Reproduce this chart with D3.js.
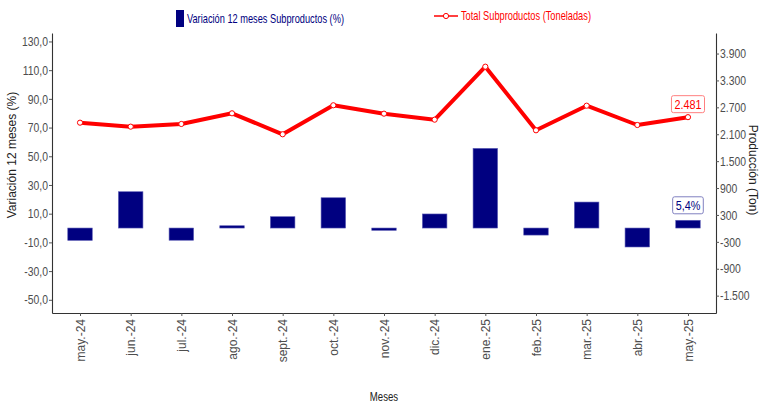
<!DOCTYPE html>
<html lang="es">
<head>
<meta charset="UTF-8">
<title>Subproductos</title>
<script src="https://cdn.jsdelivr.net/npm/d3@7"></script>
<style>
  body { margin: 0; background: #fff; }
  text { font-family: "Liberation Sans", Arial, sans-serif; }
</style>
</head>
<body>
<script>
"use strict";
// data
var months = ["may.-24", "jun.-24", "jul.-24", "ago.-24", "sept.-24", "oct.-24", "nov.-24",
              "dic.-24", "ene.-25", "feb.-25", "mar.-25", "abr.-25", "may.-25"];
var variacion = [-8.6, 25.3, -8.5, 1.6, 7.9, 21.1, -1.6, 9.8, 55.5, -4.9, 18.1, -13.2, 5.4];
var toneladas = [2358, 2269, 2329, 2567, 2099, 2746, 2559, 2425, 3607, 2188, 2737, 2306, 2481];
var leftTicks = [-50, -30, -10, 10, 30, 50, 70, 90, 110, 130];
var rightTicks = [-1500, -900, -300, 300, 900, 1500, 2100, 2700, 3300, 3900];

var W = 764, H = 404;
var pL = 52, pR = 716, pT = 33, pB = 313;
var K = 0.8; // squeeze for the narrow font of the original

var es = d3.formatLocale({ decimal: ",", thousands: ".", grouping: [3], currency: ["", "€"], minus: "-" });
var fmt1 = es.format(",.1f"), fmt0 = es.format(",.0f");

// squeeze text horizontally, keeping its x anchor
function narrow(sel, k) {
  sel.each(function () {
    var t = d3.select(this);
    var xx = +t.attr("x") || 0;
    t.attr("x", xx / k).attr("transform", (t.attr("transform") || "") + " scale(" + k + ",1)");
  });
}

var svg = d3.select("body").append("svg")
  .attr("width", W).attr("height", H);

var x = d3.scalePoint().domain(months).range([pL, pR]).padding(0.553);
var yL = d3.scaleLinear().domain([-59.2, 135.9]).range([pB, pT]);
var yR = d3.scaleLinear().domain([-1887, 4358]).range([pB, pT]);
var barW = 24.5;

// bars
svg.append("g").selectAll("rect")
  .data(variacion)
  .enter().append("rect")
  .attr("x", function (d, i) { return x(months[i]) - barW / 2; })
  .attr("y", function (d) { return yL(Math.max(0, d)); })
  .attr("width", barW)
  .attr("height", function (d) { return Math.abs(yL(d) - yL(0)); })
  .attr("fill", "#000080")
  .attr("stroke", "#5a5ab4")
  .attr("stroke-width", 0.6);

// line
var line = d3.line()
  .x(function (d, i) { return x(months[i]); })
  .y(function (d) { return yR(d); });
svg.append("path")
  .datum(toneladas)
  .attr("fill", "none")
  .attr("stroke", "#ff0000")
  .attr("stroke-width", 4)
  .attr("stroke-linejoin", "round")
  .attr("d", line);
svg.append("g").selectAll("circle")
  .data(toneladas)
  .enter().append("circle")
  .attr("cx", function (d, i) { return x(months[i]); })
  .attr("cy", function (d) { return yR(d); })
  .attr("r", 2.6)
  .attr("fill", "#fff")
  .attr("stroke", "#ff0000")
  .attr("stroke-width", 1);

// axes
var axL = svg.append("g").attr("transform", "translate(" + pL + ",0)")
  .call(d3.axisLeft(yL).tickValues(leftTicks).tickFormat(fmt1).tickSize(3).tickSizeOuter(0));
var axR = svg.append("g").attr("transform", "translate(" + pR + ",0)")
  .call(d3.axisRight(yR).tickValues(rightTicks).tickFormat(fmt0).tickSize(3).tickSizeOuter(0));
var axB = svg.append("g").attr("transform", "translate(0," + pB + ")")
  .call(d3.axisBottom(x).tickSize(3).tickSizeOuter(0));
[axL, axR, axB].forEach(function (g) {
  g.attr("font-family", null);
  g.select(".domain").attr("stroke", "#333").attr("stroke-width", 1.1);
  g.selectAll(".tick line").attr("stroke", "#555");
  g.selectAll(".tick text").attr("fill", "#4d4d4d").attr("font-size", 13);
});
axL.selectAll(".tick text").attr("x", -4);
axR.selectAll(".tick text").attr("x", 4);
narrow(axL.selectAll(".tick text"), K);
narrow(axR.selectAll(".tick text"), K);
axB.selectAll(".tick text")
  .attr("font-size", 12)
  .attr("transform", "rotate(-90)")
  .attr("text-anchor", "end")
  .attr("dy", "0.35em")
  .attr("x", -6).attr("y", 0);

// axis titles
svg.append("text")
  .attr("transform", "translate(16,155) rotate(-90)")
  .attr("text-anchor", "middle")
  .attr("font-size", 12).attr("fill", "#222")
  .text("Variación 12 meses (%)");
svg.append("text")
  .attr("transform", "translate(749,170) rotate(90)")
  .attr("text-anchor", "middle")
  .attr("font-size", 12).attr("fill", "#222")
  .text("Producción (Ton)");
svg.append("text")
  .attr("x", 384).attr("y", 401)
  .attr("text-anchor", "middle")
  .attr("font-size", 12).attr("fill", "#222")
  .text("Meses")
  .call(narrow, K);

// legend
svg.append("rect").attr("x", 176).attr("y", 10).attr("width", 8).attr("height", 17).attr("fill", "#000080");
svg.append("text").attr("x", 187).attr("y", 23).attr("font-size", 12.5).attr("fill", "#000080")
  .text("Variación 12 meses Subproductos (%)")
  .call(narrow, 0.74);
svg.append("line").attr("x1", 434).attr("x2", 458).attr("y1", 16).attr("y2", 16)
  .attr("stroke", "#ff0000").attr("stroke-width", 1.5);
svg.append("circle").attr("cx", 446).attr("cy", 16).attr("r", 2.6)
  .attr("fill", "#fff").attr("stroke", "#ff0000").attr("stroke-width", 1);
svg.append("text").attr("x", 461).attr("y", 20).attr("font-size", 12.5).attr("fill", "#ff0000")
  .text("Total Subproductos (Toneladas)")
  .call(narrow, 0.74);

// value labels for the last month
function boxLabel(cx, cy, txt, col, border) {
  var g = svg.append("g");
  var t = g.append("text").attr("x", cx).attr("y", cy + 4.5)
    .attr("text-anchor", "middle").attr("font-size", 13.5).attr("fill", col).text(txt);
  var w = t.node().getBBox().width * K;
  narrow(t, K);
  g.insert("rect", "text")
    .attr("x", cx - w / 2 - 3).attr("y", cy - 8.5)
    .attr("width", w + 6).attr("height", 17)
    .attr("rx", 2).attr("fill", "#fff")
    .attr("stroke", border).attr("stroke-width", 1);
}
var last = months.length - 1;
boxLabel(x(months[last]), yR(toneladas[last]) - 13, fmt0(toneladas[last]), "#ff0000", "#ff8080");
boxLabel(x(months[last]), yL(variacion[last]) - 15, fmt1(variacion[last]) + "%", "#000080", "#8080c0");
</script>
</body>
</html>
